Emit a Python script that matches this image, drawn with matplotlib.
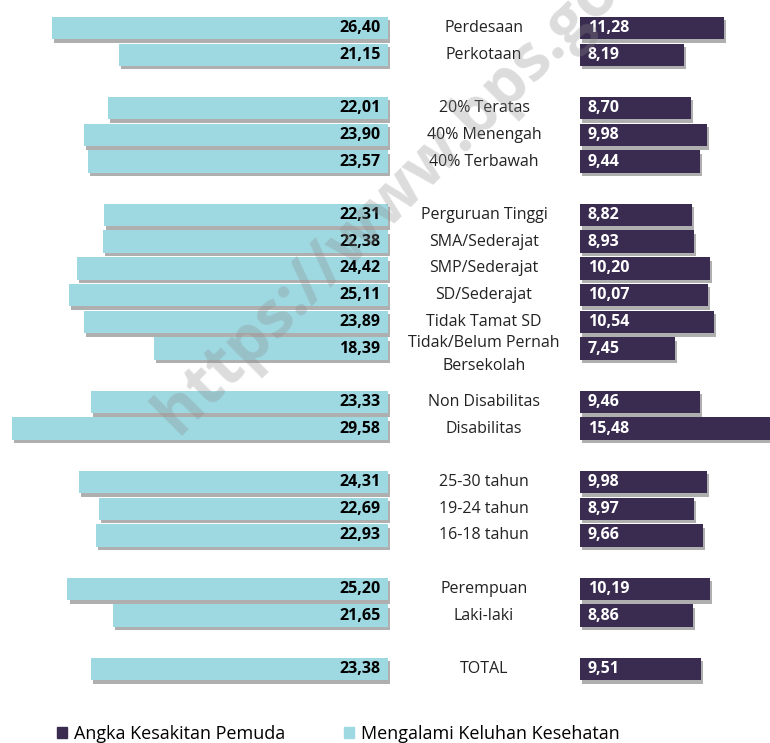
import numpy as np
import matplotlib
matplotlib.use("Agg")
from matplotlib import pyplot as plt
from matplotlib import patheffects as pe
from matplotlib.patches import Patch

plt.rcParams['font.family'] = ['Open Sans', 'DejaVu Sans']

# categories, top to bottom (None = empty gap row)
categories = ["Perdesaan", "Perkotaan", None,
              "20% Teratas", "40% Menengah", "40% Terbawah", None,
              "Perguruan Tinggi", "SMA/Sederajat", "SMP/Sederajat", "SD/Sederajat",
              "Tidak Tamat SD", "Tidak/Belum Pernah\nBersekolah", None,
              "Non Disabilitas", "Disabilitas", None,
              "25-30 tahun", "19-24 tahun", "16-18 tahun", None,
              "Perempuan", "Laki-laki", None,
              "TOTAL"]
keluhan = [26.40, 21.15, None,
           22.01, 23.90, 23.57, None,
           22.31, 22.38, 24.42, 25.11, 23.89, 18.39, None,
           23.33, 29.58, None,
           24.31, 22.69, 22.93, None,
           25.20, 21.65, None,
           23.38]
kesakitan = [11.28, 8.19, None,
             8.70, 9.98, 9.44, None,
             8.82, 8.93, 10.20, 10.07, 10.54, 7.45, None,
             9.46, 15.48, None,
             9.98, 8.97, 9.66, None,
             10.19, 8.86, None,
             9.51]

c_left = '#9ED8E1'
c_right = '#3A2C50'
gap = 15.1  # space between the two bar groups (data units)

fig = plt.figure(figsize=(7.70, 7.43), dpi=100)
ax = fig.add_axes([0, 0, 1, 1])

shadow = [pe.SimplePatchShadow(offset=(1.5, -2.5), shadow_rgbFace='#7a7a7a', alpha=0.6), pe.Normal()]

for i, (cat, lv, rv) in enumerate(zip(categories, keluhan, kesakitan)):
    if cat is None:
        continue
    b1 = ax.barh(i, -lv, height=0.84, color=c_left)
    b2 = ax.barh(i, rv, left=gap, height=0.84, color=c_right)
    for b in list(b1) + list(b2):
        b.set_path_effects(shadow)
    lab_l = ('%.2f' % lv).replace('.', ',')
    lab_r = ('%.2f' % rv).replace('.', ',')
    ax.text(-0.6, i, lab_l, ha='right', va='center', fontsize=11.5,
            fontweight='bold', color='black')
    ax.text(gap + 0.6, i, lab_r, ha='left', va='center', fontsize=11.5,
            fontweight='bold', color='white')
    if '\n' in cat:
        ax.text(gap / 2, i + 0.23, cat, ha='center', va='center', fontsize=11.5,
                color='#222222', linespacing=1.55)
    else:
        ax.text(gap / 2, i, cat, ha='center', va='center', fontsize=11.5,
                color='#222222')

# watermark (pixel position from bottom-left)
ax.text(415, 743 - 175, "https://www.bps.go.id", transform=None, fontsize=46,
        fontweight='bold', color='#8c8c8c', alpha=0.3, rotation=45,
        ha='center', va='center', zorder=5, clip_on=True)

ax.set_xlim(-30.5, 30.03)
ax.set_ylim(26.77, -1.05)
ax.axis('off')

handles = [Patch(color=c_right), Patch(color=c_left)]
fig.legend(handles, ["Angka Kesakitan Pemuda", "Mengalami Keluhan Kesehatan"],
           loc='center left', bbox_to_anchor=(0.065, 0.012), ncol=2, frameon=False,
           fontsize=13, handlelength=0.55, handleheight=0.55, handletextpad=0.35,
           columnspacing=3.3, borderaxespad=0)

fig.savefig('out.png', dpi=100)
